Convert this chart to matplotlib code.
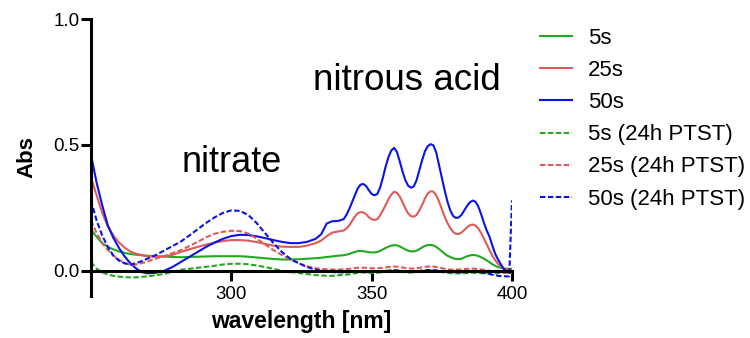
import matplotlib
matplotlib.use("Agg")
import matplotlib.pyplot as plt

plt.rcParams['font.family'] = ['Liberation Sans', 'DejaVu Sans']

# wavelength grid of the solid (fresh) spectra
wl_fresh = ([250, 252, 254, 256, 258, 260, 262, 264, 266, 268, 270,
             273, 276, 279, 282, 285, 288, 291, 294, 297, 300, 303, 306, 309, 312, 315, 318, 321, 324, 327, 330,
             332, 334, 336, 338]
            + list(range(340, 401)))

abs_5s = [0.163, 0.135, 0.11, 0.095, 0.085, 0.077, 0.071, 0.067, 0.064, 0.062, 0.06,
          0.058, 0.057, 0.055, 0.054, 0.055, 0.056, 0.057, 0.058, 0.058, 0.058, 0.058, 0.056, 0.053, 0.05, 0.047,
          0.045, 0.045, 0.046, 0.048, 0.05,
          0.052, 0.055, 0.057, 0.06,
          0.062, 0.064, 0.067, 0.071, 0.075, 0.078, 0.079, 0.078, 0.076, 0.074,
          0.073, 0.073, 0.075, 0.079, 0.085, 0.091, 0.096, 0.1, 0.102, 0.101,
          0.097, 0.091, 0.085, 0.08, 0.077, 0.077, 0.08, 0.086, 0.093, 0.099,
          0.102, 0.103, 0.101, 0.095, 0.087, 0.077, 0.068, 0.06, 0.055, 0.05,
          0.047, 0.046, 0.048, 0.053, 0.058, 0.061, 0.063, 0.062, 0.059, 0.054,
          0.048, 0.041, 0.034, 0.026, 0.02, 0.015, 0.012, 0.009, 0.008, 0.008,
          0.008]

abs_25s = [0.37, 0.30, 0.23, 0.176, 0.14, 0.112, 0.092, 0.077, 0.068, 0.062, 0.058,
           0.056, 0.057, 0.063, 0.075, 0.085, 0.095, 0.104, 0.112, 0.118, 0.122, 0.122, 0.12, 0.114, 0.107, 0.1,
           0.096, 0.095, 0.095, 0.1, 0.11,
           0.12, 0.138, 0.152, 0.156,
           0.16, 0.168, 0.18, 0.198, 0.215, 0.228, 0.233, 0.232, 0.225, 0.213,
           0.205, 0.202, 0.205, 0.22, 0.24, 0.262, 0.285, 0.303, 0.314, 0.31,
           0.295, 0.272, 0.248, 0.228, 0.217, 0.215, 0.222, 0.24, 0.262, 0.288,
           0.307, 0.316, 0.314, 0.3, 0.275, 0.245, 0.215, 0.19, 0.17, 0.155,
           0.147, 0.146, 0.152, 0.162, 0.173, 0.181, 0.184, 0.18, 0.168, 0.15,
           0.128, 0.105, 0.082, 0.06, 0.042, 0.028, 0.018, 0.011, 0.006, 0.004,
           0.003]

abs_50s = [0.46, 0.35, 0.26, 0.18, 0.13, 0.09, 0.057, 0.03, 0.01, -0.005, -0.01,
           -0.008, 0.0, 0.015, 0.035, 0.055, 0.075, 0.095, 0.112, 0.127, 0.138, 0.143, 0.142, 0.137, 0.13, 0.122,
           0.115, 0.11, 0.11, 0.115, 0.127,
           0.145, 0.188, 0.197, 0.198,
           0.205, 0.222, 0.245, 0.272, 0.3, 0.326, 0.342, 0.345, 0.337, 0.32,
           0.305, 0.3, 0.305, 0.33, 0.37, 0.415, 0.452, 0.478, 0.488, 0.472,
           0.435, 0.394, 0.36, 0.338, 0.33, 0.335, 0.36, 0.4, 0.44, 0.475,
           0.495, 0.503, 0.498, 0.47, 0.42, 0.37, 0.32, 0.275, 0.24, 0.218,
           0.21, 0.212, 0.222, 0.24, 0.258, 0.272, 0.279, 0.274, 0.255, 0.225,
           0.19, 0.16, 0.135, 0.1, 0.068, 0.045, 0.027, 0.008, 0.0, -0.006,
           -0.01]

# wavelength grid of the dashed (24h PTST) spectra
wl_ptst = [250, 252, 254, 256, 258, 260, 262, 264, 266, 268, 270, 273, 276, 279, 282, 285, 288, 291, 294, 297,
           300, 303, 306, 309, 312, 315, 318, 321, 324, 327, 330, 332, 334, 336, 338, 340, 342, 344, 346, 348,
           350, 352, 354, 356, 358, 360, 362, 364, 366, 368, 370, 372, 374, 376, 378, 380, 382, 384, 386, 388,
           390, 392, 394, 396, 398, 399, 400]

abs_5s_ptst = [0.036, 0.008, -0.006, -0.015, -0.02, -0.023, -0.025, -0.026, -0.026, -0.024, -0.022, -0.018, -0.012,
               -0.004, 0.004, 0.008, 0.012, 0.016, 0.02, 0.025, 0.028, 0.028, 0.026, 0.021, 0.015, 0.008, 0.0,
               -0.005, -0.009, -0.013, -0.017, -0.018, -0.02, -0.02, -0.018, -0.016, -0.014, -0.01, -0.006, -0.007,
               -0.009, -0.008, -0.005, -0.002, -0.001, -0.003, -0.006, -0.007, -0.005, 0.0, 0.002, 0.001, -0.003,
               -0.007, -0.009, -0.01, -0.01, -0.009, -0.008, -0.009, -0.01, -0.011, -0.01, -0.008, -0.006, -0.005,
               -0.005]

abs_25s_ptst = [0.2, 0.15, 0.11, 0.083, 0.06, 0.044, 0.03, 0.024, 0.025, 0.03, 0.037, 0.048, 0.058, 0.07, 0.082,
                0.098, 0.115, 0.133, 0.147, 0.155, 0.159, 0.158, 0.148, 0.128, 0.105, 0.082, 0.063, 0.045, 0.03,
                0.018, 0.01, 0.008, 0.006, 0.005, 0.005, 0.006, 0.008, 0.011, 0.013, 0.012, 0.01, 0.01, 0.012,
                0.015, 0.017, 0.015, 0.011, 0.009, 0.01, 0.014, 0.017, 0.017, 0.013, 0.008, 0.005, 0.005, 0.006,
                0.008, 0.009, 0.007, 0.004, 0.0, -0.004, -0.007, -0.008, -0.008, -0.008]

abs_50s_ptst = [0.28, 0.2, 0.14, 0.095, 0.06, 0.04, 0.03, 0.025, 0.03, 0.038, 0.048, 0.062, 0.08, 0.098, 0.116,
                0.14, 0.165, 0.19, 0.212, 0.23, 0.24, 0.238, 0.222, 0.19, 0.15, 0.11, 0.075, 0.048, 0.03, 0.015,
                0.005, 0.0, -0.003, -0.005, -0.006, -0.006, -0.005, -0.003, -0.002, -0.003, -0.005, -0.004, -0.002,
                0.001, 0.003, 0.001, -0.002, -0.003, -0.002, 0.001, 0.003, 0.003, 0.0, -0.003, -0.005, -0.006,
                -0.006, -0.005, -0.004, -0.005, -0.008, -0.013, -0.018, -0.021, -0.022, -0.022, 0.28]

labels = ['5s', '25s', '50s', '5s (24h PTST)', '25s (24h PTST)', '50s (24h PTST)']
x_ticks = [300, 350, 400]
y_ticks = [0.0, 0.5, 1.0]
y_ticklabels = ['0.0', '0.5', '1.0']

green = '#1faa1f'
red = '#e05a5a'
blue = '#0a14e6'

fig = plt.figure(figsize=(7.5, 3.38), dpi=100)
ax = fig.add_axes([91 / 750, 42 / 338, 421 / 750, 277 / 338])

lw = 1.5
dash = (0, (2.6, 1.2))
series = [(wl_fresh, abs_5s), (wl_fresh, abs_25s), (wl_fresh, abs_50s),
          (wl_ptst, abs_5s_ptst), (wl_ptst, abs_25s_ptst), (wl_ptst, abs_50s_ptst)]
colors = [green, red, blue, green, red, blue]
styles = ['-', '-', '-', dash, dash, dash]
for (wl, vals), c, ls, lab in zip(series, colors, styles, labels):
    ax.plot(wl, vals, color=c, lw=lw, ls=ls, label=lab)

ax.set_xlim(250, 400)
ax.set_ylim(-0.1, 1.0)
ax.spines['top'].set_visible(False)
ax.spines['right'].set_visible(False)
ax.spines['bottom'].set_position(('data', 0))
for s in ('left', 'bottom'):
    ax.spines[s].set_linewidth(2.2)
    ax.spines[s].set_color('black')
ax.set_xticks(x_ticks)
ax.set_yticks(y_ticks)
ax.set_yticklabels(y_ticklabels)
ax.tick_params(axis='both', direction='out', length=7, width=2.2, labelsize=13.5, colors='black')
ax.tick_params(axis='y', pad=1)
ax.tick_params(axis='x', pad=4)

ax.set_xlabel('wavelength [nm]', fontsize=16.5, fontweight='bold', labelpad=5)
ax.set_ylabel('Abs', fontsize=16, fontweight='bold', labelpad=12)

ax.text(300, 0.393, 'nitrate', fontsize=26, ha='center', va='baseline')
ax.text(362.7, 0.72, 'nitrous acid', fontsize=26.5, ha='center', va='baseline')

fig.legend(loc='upper left', bbox_to_anchor=(540 / 750, 1 - 28 / 338), frameon=False,
           fontsize=16, handlelength=1.45, handletextpad=0.7, labelspacing=0.5,
           borderpad=0, borderaxespad=0)

fig.savefig('out.png', dpi=100)
